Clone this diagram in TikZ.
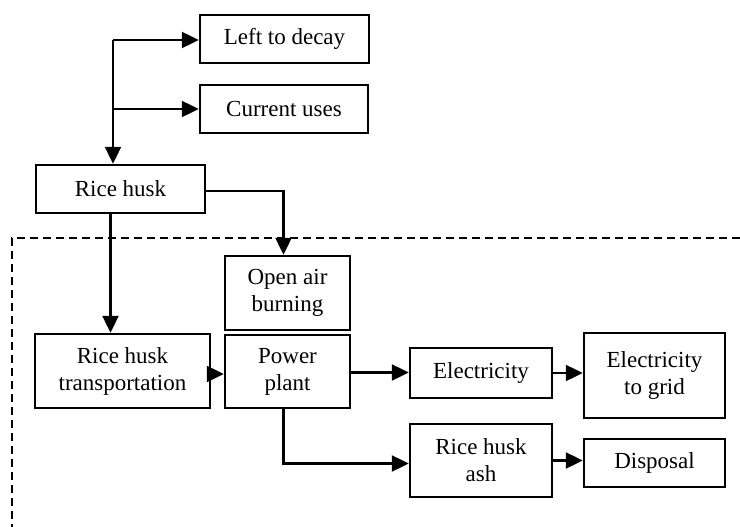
\documentclass[tikz,border=0pt]{standalone}
\usepackage{fontspec}
\setmainfont{Liberation Serif}
\usetikzlibrary{arrows.meta}

\begin{document}
\begin{tikzpicture}[x=1pt,y=-1pt,
  box/.style={draw,line width=2.4pt,inner sep=0pt,align=center,
    font=\fontsize{23}{27}\selectfont},
  arr/.style={line width=2.2pt,-{Triangle[length=17pt,width=16pt]}}]
\useasboundingbox (0,0) rectangle (740,527);
% dashed boundary of the power plant system
\draw[line width=2pt,dash pattern=on 8pt off 5pt] (740,238) -- (12,238) -- (12,527);
\node[box,minimum width=169,minimum height=48] (decay) at (284.5,39) {Left to decay};
\node[box,minimum width=168,minimum height=48] (uses) at (284,109) {Current uses};
\node[box,minimum width=169,minimum height=48] (husk) at (120.5,189) {Rice husk};
\node[box,minimum width=125,minimum height=74] (openair) at (287.5,293) {Open air\\burning};
\node[box,minimum width=125,minimum height=73] (power) at (287.5,371.5) {Power\\plant};
\node[box,minimum width=175,minimum height=74] (transport) at (122.5,371) {Rice husk\\transportation};
\node[box,minimum width=142,minimum height=50] (elec) at (481,373) {Electricity};
\node[box,minimum width=141,minimum height=85] (grid) at (654.5,375.5) {Electricity\\to grid};
\node[box,minimum width=142,minimum height=73] (ash) at (481,460.5) {Rice husk\\ash};
\node[box,minimum width=141,minimum height=48] (disposal) at (654.5,463) {Disposal};
\coordinate (trunk) at (113,40);
\draw[arr] (trunk) -- (trunk -| decay.west);
\draw[arr] (trunk |- uses) -- (uses.west);
\draw[arr] (trunk) -- (trunk |- husk.north);
\draw[arr] ([yshift=-2]husk.east) -| ([xshift=-4]openair.north);
\draw[arr] ([xshift=-10]husk.south) -- ([xshift=-10]husk.south |- transport.north);
\draw[arr] ([yshift=-3]transport.east) -- ([yshift=-3]transport.east -| power.west);
\draw[arr] ([yshift=-1]power.east) -- ([yshift=-1]power.east -| elec.west);
\draw[arr] (elec.east) -- (elec.east -| grid.west);
\draw[arr] ([xshift=-4]power.south) |- ([yshift=-3]ash.west);
\draw[arr] (ash.east) -- (ash.east -| disposal.west);
\end{tikzpicture}
\end{document}
